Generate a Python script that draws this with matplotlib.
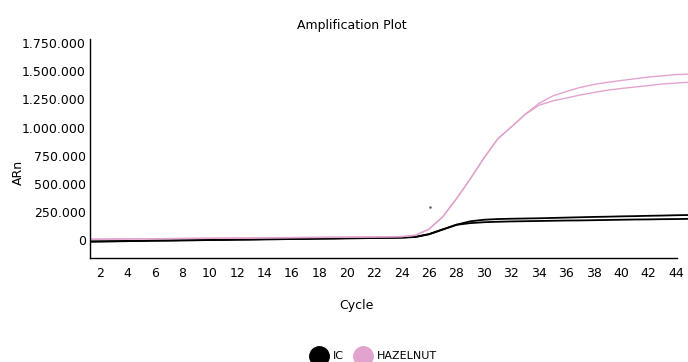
import matplotlib
matplotlib.use("Agg")
import matplotlib.pyplot as plt
from matplotlib.lines import Line2D
from matplotlib.ticker import FuncFormatter

# cycles 1..45
cycles = list(range(1, 46))

# HAZELNUT replicates (pink)
hazelnut_a = [9000, 10000, 11000, 12000, 13000, 14000, 15000, 16000, 17000, 18000,
              19000, 20000, 21000, 22000, 23000, 24000, 25000, 26000, 27000, 28000,
              29000, 30000, 31000, 33000, 45000, 100000, 210000, 370000, 545000, 730000,
              900000, 1006000, 1117000, 1213000, 1279000, 1319000, 1355000, 1381000, 1401000, 1417000,
              1432000, 1448000, 1458000, 1469000, 1474000]
hazelnut_b = [8000, 9000, 10000, 11000, 12000, 13000, 14000, 15000, 16000, 17000,
              18000, 19000, 20000, 21000, 22000, 23000, 24000, 25000, 26000, 27000,
              28000, 29000, 30000, 32000, 43000, 98000, 208000, 368000, 543000, 728000,
              898000, 1005000, 1115000, 1197000, 1235000, 1261000, 1288000, 1310000, 1331000, 1346000,
              1359000, 1372000, 1386000, 1394000, 1402000]

# IC replicates (black)
ic_a = [-10000, -9000, -8000, -6000, -5000, -3000, -2000, 0, 1000, 3000,
        4000, 6000, 7000, 9000, 10000, 12000, 13000, 15000, 16000, 18000,
        19000, 21000, 22000, 24000, 30000, 55000, 97000, 138000, 168000, 182000,
        188000, 191000, 193000, 195000, 198000, 201000, 204000, 207000, 209000, 212000,
        214000, 217000, 219000, 222000, 224000]
ic_b = [-14000, -12000, -10000, -8000, -6000, -4000, -3000, -1000, 0, 2000,
        3000, 5000, 6000, 8000, 9000, 11000, 12000, 14000, 15000, 17000,
        18000, 20000, 21000, 23000, 29000, 53000, 95000, 137000, 152000, 160000,
        164000, 167000, 169000, 171000, 173000, 175000, 176000, 178000, 180000, 182000,
        184000, 185000, 187000, 188000, 190000]

series_names = ["IC", "HAZELNUT"]
series_colors = ["#000000", "#E2A4CE"]

x_ticks = list(range(2, 45, 2))
y_ticks = [0, 250000, 500000, 750000, 1000000, 1250000, 1500000, 1750000]

fig = plt.figure(figsize=(6.88, 3.62), dpi=100)
ax = fig.add_axes([90 / 688, 103.7 / 362, 598 / 688, 219.3 / 362])

ax.plot(cycles, ic_a, color=series_colors[0], lw=1.3)
ax.plot(cycles, ic_b, color=series_colors[0], lw=1.3)
ax.plot(cycles, hazelnut_a, color=series_colors[1], lw=1.0)
ax.plot(cycles, hazelnut_b, color=series_colors[1], lw=1.0)
# stray dot in the original export
ax.plot([26.1], [292000], marker=".", ms=1.5, color="#555555", ls="none")

ax.set_xlim(1.27, 44.88)
ax.set_ylim(-160000, 1785000)
ax.set_xticks(x_ticks)
ax.set_yticks(y_ticks)
ax.yaxis.set_major_formatter(FuncFormatter(lambda v, p: f"{int(v):,}".replace(",", ".")))
ax.tick_params(length=0, labelsize=9, pad=3)
ax.tick_params(axis="x", pad=6)

for s in ["top", "right"]:
    ax.spines[s].set_visible(False)
ax.spines["bottom"].set_bounds(1.27, 44.07)
ax.spines["left"].set_linewidth(1.0)
ax.spines["bottom"].set_linewidth(1.0)

fig.text(352 / 688, 1 - 25 / 362, "Amplification Plot", ha="center", va="center", fontsize=9)
fig.text(18 / 688, 1 - 172 / 362, "ARn", ha="center", va="center", rotation=90, fontsize=9)
fig.text(356 / 688, 1 - 306 / 362, "Cycle", ha="center", va="center", fontsize=9)

# legend drawn by hand at the bottom
leg_x = [319, 363]
for name, col, x in zip(series_names, series_colors, leg_x):
    fig.add_artist(Line2D([x / 688], [1 - 356 / 362], transform=fig.transFigure,
                          marker="o", ms=14, color=col, ls="none"))
    fig.text((x + 14) / 688, 1 - 356 / 362, name, ha="left", va="center", fontsize=8)

fig.savefig("out.png", dpi=100)
